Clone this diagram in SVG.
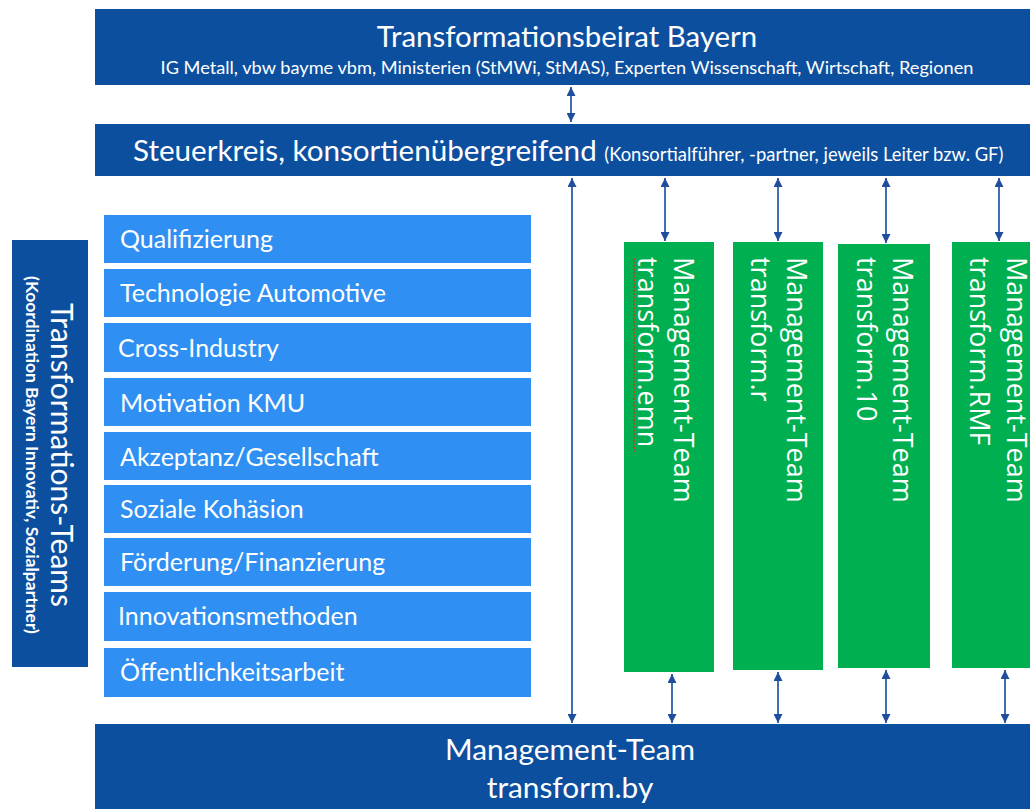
<svg xmlns="http://www.w3.org/2000/svg" width="1030" height="809" viewBox="0 0 1030 809">
<style>
.dark{fill:#0d4f9f}
.light{fill:#2f8ff2}
.green{fill:#00b050}
.t{font-family:Lato,"Open Sans",sans-serif;fill:#ffffff}
.g{font-family:"Open Sans",Lato,sans-serif;fill:#ffffff;font-size:27px}
.lbl{font-size:25px}
.conn line{stroke:#2c5fa8;stroke-width:1.8;fill:none;marker-start:url(#ah);marker-end:url(#ah)}
</style>
<defs>
<marker id="ah" viewBox="0 0 10 10" refX="10" refY="5" markerWidth="9" markerHeight="9" markerUnits="userSpaceOnUse" orient="auto-start-reverse">
<path d="M0,0 L10,5 L0,10 Z" fill="#1f4e9c"/>
</marker>
</defs>
<rect width="1030" height="809" fill="#ffffff"/>

<g id="beirat">
<rect class="dark" x="95" y="9" width="935" height="76"/>
<text class="t" x="567" y="47" font-size="29.4" text-anchor="middle">Transformationsbeirat Bayern</text>
<text class="t" x="567" y="74" font-size="18.2" text-anchor="middle">IG Metall, vbw bayme vbm, Ministerien (StMWi, StMAS), Experten Wissenschaft, Wirtschaft, Regionen</text>
</g>

<g id="steuerkreis">
<rect class="dark" x="95" y="124" width="935" height="52"/>
<text class="t" x="133" y="161" font-size="29.6">Steuerkreis, konsortienübergreifend <tspan font-size="18.4">(Konsortialführer, -partner, jeweils Leiter bzw. GF)</tspan></text>
</g>

<g id="transformations-teams">
<rect class="dark" x="12" y="240" width="76" height="427"/>
<text class="t" transform="translate(51,455) rotate(90)" font-size="30" text-anchor="middle">Transformations-Teams</text>
<text class="t" transform="translate(26,455) rotate(90)" font-size="17.5" font-weight="bold" text-anchor="middle">(Koordination Bayern Innovativ, Sozialpartner)</text>
</g>

<g id="qualifizierung"><rect class="light" x="104" y="215" width="427" height="48"/><text class="t lbl" x="120" y="248">Qualifizierung</text></g>
<g id="technologie"><rect class="light" x="104" y="269" width="427" height="48"/><text class="t lbl" x="120" y="302">Technologie Automotive</text></g>
<g id="cross-industry"><rect class="light" x="104" y="323" width="427" height="49"/><text class="t lbl" x="118" y="357">Cross-Industry</text></g>
<g id="motivation"><rect class="light" x="104" y="378" width="427" height="48"/><text class="t lbl" x="120" y="412">Motivation KMU</text></g>
<g id="akzeptanz"><rect class="light" x="104" y="432" width="427" height="48"/><text class="t lbl" x="120" y="466">Akzeptanz/Gesellschaft</text></g>
<g id="soziale"><rect class="light" x="104" y="485" width="427" height="48"/><text class="t lbl" x="120" y="518">Soziale Kohäsion</text></g>
<g id="foerderung"><rect class="light" x="104" y="538" width="427" height="48"/><text class="t lbl" x="120" y="571">Förderung/Finanzierung</text></g>
<g id="innovationsmethoden"><rect class="light" x="104" y="592" width="427" height="49"/><text class="t lbl" x="118" y="625">Innovationsmethoden</text></g>
<g id="oeffentlichkeit"><rect class="light" x="104" y="648" width="427" height="49"/><text class="t lbl" x="120" y="681">Öffentlichkeitsarbeit</text></g>

<g id="mt-emn">
<rect class="green" x="624" y="242" width="90" height="430"/>
<text class="g" transform="translate(674,257) rotate(90)">Management-Team</text>
<text class="g" transform="translate(638,257) rotate(90)">transform.emn</text>
<line x1="634" y1="258" x2="634" y2="452" stroke="#a0522d" stroke-width="2" stroke-dasharray="2 1.5"/>
</g>
<g id="mt-r">
<rect class="green" x="733" y="242" width="90" height="428"/>
<text class="g" transform="translate(787,257) rotate(90)">Management-Team</text>
<text class="g" transform="translate(751,257) rotate(90)">transform.r</text>
</g>
<g id="mt-10">
<rect class="green" x="838" y="244" width="92" height="424"/>
<text class="g" transform="translate(893,257) rotate(90)">Management-Team</text>
<text class="g" transform="translate(857,257) rotate(90)">transform.10</text>
</g>
<g id="mt-rmf">
<rect class="green" x="952" y="242" width="90" height="426"/>
<text class="g" transform="translate(1007,257) rotate(90)">Management-Team</text>
<text class="g" transform="translate(970,257) rotate(90)">transform.RMF</text>
</g>

<g id="mt-by">
<rect class="dark" x="95" y="724" width="935" height="85"/>
<text class="t" x="570" y="760" font-size="29.8" text-anchor="middle">Management-Team</text>
<text class="t" x="570" y="798" font-size="29.8" text-anchor="middle">transform.by</text>
</g>

<g id="connectors" class="conn">
<line x1="571" y1="87" x2="571" y2="122"/>
<line x1="572" y1="178" x2="572" y2="723"/>
<line x1="665" y1="178" x2="665" y2="241"/>
<line x1="778" y1="178" x2="778" y2="241"/>
<line x1="886" y1="178" x2="886" y2="243"/>
<line x1="999" y1="178" x2="999" y2="241"/>
<line x1="672" y1="674" x2="672" y2="723"/>
<line x1="778" y1="672" x2="778" y2="723"/>
<line x1="886" y1="670" x2="886" y2="723"/>
<line x1="1005" y1="670" x2="1005" y2="723"/>
</g>
</svg>
